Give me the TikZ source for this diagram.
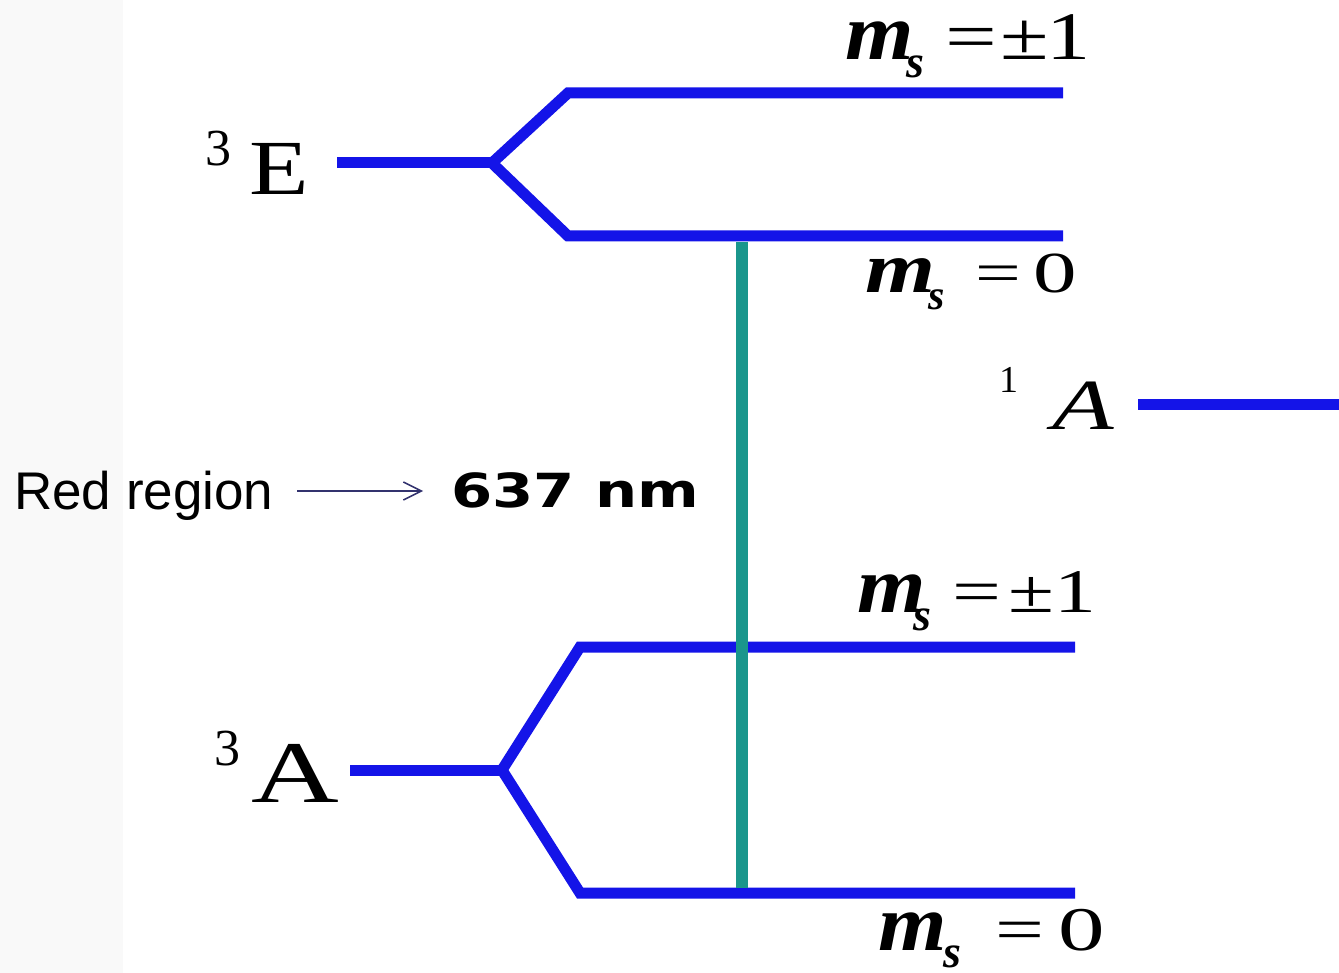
\documentclass[tikz,border=0pt]{standalone}
\usepackage{fontspec}
\setmainfont{Liberation Serif}
\newfontfamily\arialf{Liberation Sans}
\newfontfamily\dejavuf{DejaVu Sans}
\usetikzlibrary{arrows.meta}
\definecolor{lvlblue}{RGB}{20,20,232}
\definecolor{tealline}{RGB}{26,150,140}
\definecolor{arrownavy}{RGB}{50,50,110}
\definecolor{stripgray}{RGB}{249,249,249}
\newcommand{\bmm}[2]{{\fontsize{#1}{#1}\selectfont\scalebox{#2}[1]{\bfseries\itshape m}}}
\newcommand{\bss}[2]{\raisebox{-#2}{\fontsize{#1}{#1}\selectfont\bfseries\itshape s}}
\newcommand{\rnn}[3]{{\fontsize{#1}{#1}\selectfont\scalebox{#2}[1]{#3}}}
\begin{document}
\begin{tikzpicture}[x=1pt,y=-1pt,
  level/.style={draw=lvlblue,line width=11pt,line join=miter},
  trans/.style={draw=tealline,line width=12pt},
  lbl/.style={inner sep=0pt,anchor=base west,text=black}]
\useasboundingbox (0,0) rectangle (1339,973);
\fill[stripgray] (0,0) rectangle (123,973);
% 3E levels
\coordinate (E0) at (337,163);
\coordinate (Eb) at (492,163);
\coordinate (Eu1) at (568,93);
\coordinate (Eu2) at (1063,93);
\coordinate (El1) at (568,236);
\coordinate (El2) at (1063,236);
\draw[level] (E0) -- (Eb);
\draw[level] (Eb) -- (Eu1) -- (Eu2);
\draw[level] (Eb) -- (El1) -- (El2);
% 3A levels
\coordinate (A0) at (350,770);
\coordinate (Ab) at (502,770);
\coordinate (Au1) at (580,647);
\coordinate (Au2) at (1075,647);
\coordinate (Al1) at (580,893);
\coordinate (Al2) at (1075,893);
\draw[level] (A0) -- (Ab);
\draw[level] (Ab) -- (Au1) -- (Au2);
\draw[level] (Ab) -- (Al1) -- (Al2);
% 1A level
\coordinate (S0) at (1138,405);
\coordinate (S1) at (1339,405);
\draw[level] (S0) -- (S1);
% transition
\coordinate (T0) at (742,242);
\coordinate (T1) at (742,888);
\draw[trans] (T0) -- (T1);
% labels
\node[lbl] (ms1) at (845,60) {\makebox[61pt][l]{\bmm{80}{1.1}}\makebox[39pt][l]{\bss{46}{18pt}}\makebox[55pt][l]{\rnn{68}{1.35}{=}}\makebox[46pt][l]{\rnn{68}{1.3}{±}}\rnn{68}{1.3}{1}};
\node[lbl] (ms2) at (865,293) {\makebox[63pt][l]{\bmm{72}{1.25}}\makebox[47pt][l]{\bss{42}{17pt}}\makebox[58pt][l]{\rnn{58}{1.4}{=}}\rnn{58}{1.5}{0}};
\node[lbl] (ms3) at (857,612) {\makebox[56pt][l]{\bmm{80}{1.1}}\makebox[39pt][l]{\bss{46}{18pt}}\makebox[56pt][l]{\rnn{62}{1.4}{=}}\makebox[46pt][l]{\rnn{62}{1.35}{±}}\rnn{62}{1.35}{1}};
\node[lbl] (ms4) at (878,950) {\makebox[65pt][l]{\bmm{80}{1.1}}\makebox[52pt][l]{\bss{46}{17pt}}\makebox[63pt][l]{\rnn{62}{1.4}{=}}\rnn{62}{1.5}{0}};
\node[lbl,font=\fontsize{52}{52}\selectfont] (E3) at (205,166) {3};
\node[lbl,font=\fontsize{78}{78}\selectfont] (Elab) at (249,195) {\scalebox{1.25}[1]{E}};
\node[lbl,font=\fontsize{52}{52}\selectfont] (A3) at (214,765) {3};
\node[lbl,font=\fontsize{88}{88}\selectfont] (Alab) at (251,802) {\scalebox{1.38}[1]{A}};
\node[lbl,font=\fontsize{38}{38}\selectfont] (S1n) at (999,393) {1};
\node[lbl,font=\fontsize{72}{72}\selectfont] (Slab) at (1052,430) {\scalebox{1.4}[1]{\itshape A}};
\node[lbl,font=\arialf\fontsize{53}{53}\selectfont] (red) at (14,509) {Red region};
\node[lbl,font=\dejavuf\bfseries\fontsize{47}{47}\selectfont] (nm) at (451,507) {\scalebox{1.26}[1]{637 nm}};
\coordinate (arrS) at (297,491);
\coordinate (arrE) at (423,491);
\draw[arrownavy,line width=1.5pt,-{Straight Barb[length=18pt,width=18pt,line width=1.5pt]}] (arrS) -- (arrE);
\end{tikzpicture}
\end{document}
